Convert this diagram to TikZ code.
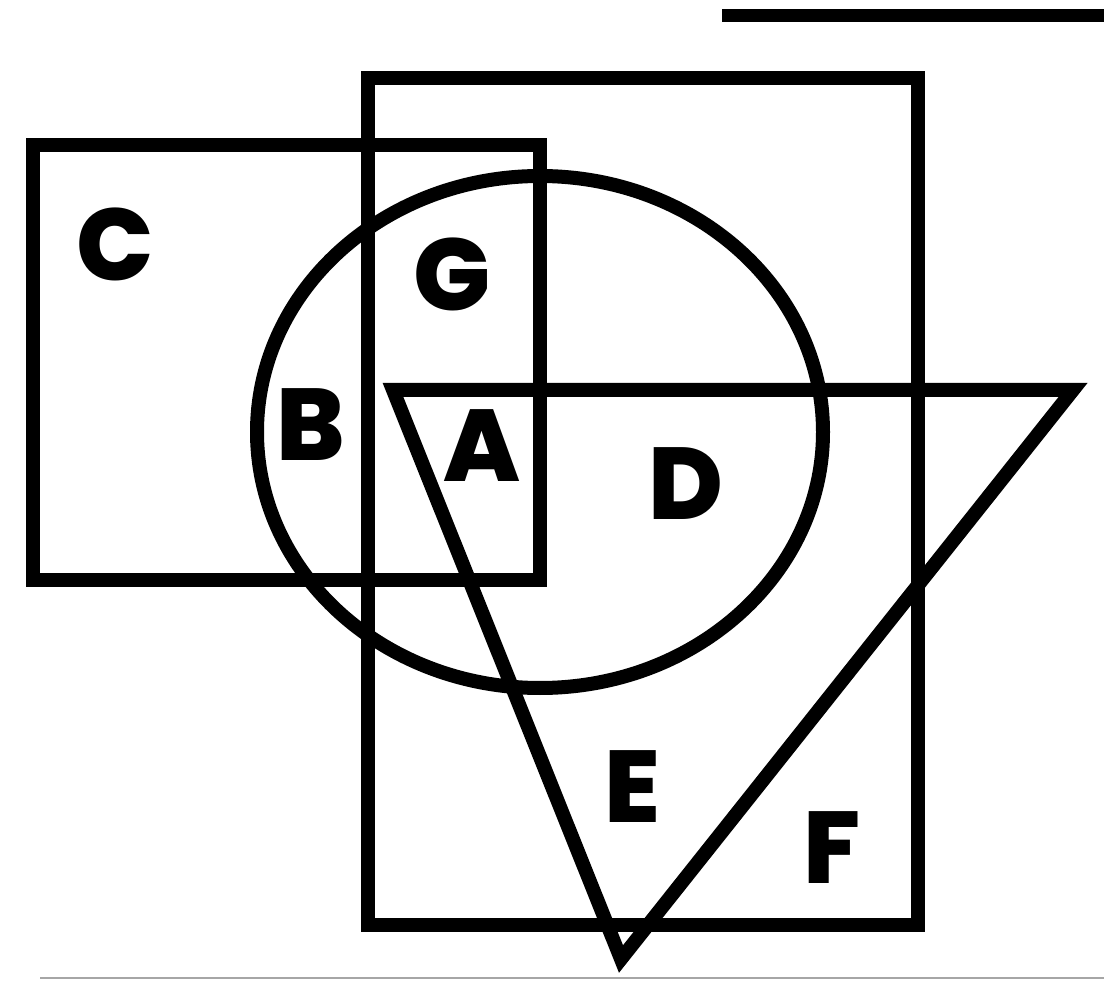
\documentclass[tikz,border=0pt]{standalone}
\usepackage{fontspec}
\newfontfamily\lblfont{Poppins}[BoldFont={Poppins ExtraBold}]
\begin{document}
\begin{tikzpicture}[x=1pt,y=-1pt,
  shape line/.style={line width=14pt,line join=miter,black},
  tri line/.style={line width=14pt,line join=miter,black},
  lbl/.style={font=\lblfont\bfseries\fontsize{102}{102}\selectfont,inner sep=0pt,anchor=center}]
\useasboundingbox (0,0) rectangle (1104,981);
% answer blank line
\coordinate (l1) at (722,16);
\coordinate (l2) at (1104,16);
\draw[line width=13pt] (l1) -- (l2);
% faint bottom rule
\coordinate (b1) at (40,978);
\coordinate (b2) at (1104,978);
\draw[line width=2pt,black!35] (b1) -- (b2);
% rectangle C
\draw[shape line] (33,145) rectangle (540,580);
% big rectangle
\draw[shape line] (368,78) rectangle (918,925);
% circle
\draw[shape line] (540,432) ellipse [x radius=283,y radius=256];
% triangle
\draw[tri line] (393,390) -- (1073,390) -- (621,959) -- cycle;
% labels
\node[lbl] (C) at (115,244) {C};
\node[lbl] (G) at (452,274) {G};
\node[lbl] (B) at (311,425) {B};
\node[lbl] (A) at (482,446) {A};
\node[lbl] (D) at (686,484) {D};
\node[lbl] (E) at (632,787) {E};
\node[lbl] (F) at (832,848) {F};
\end{tikzpicture}
\end{document}
